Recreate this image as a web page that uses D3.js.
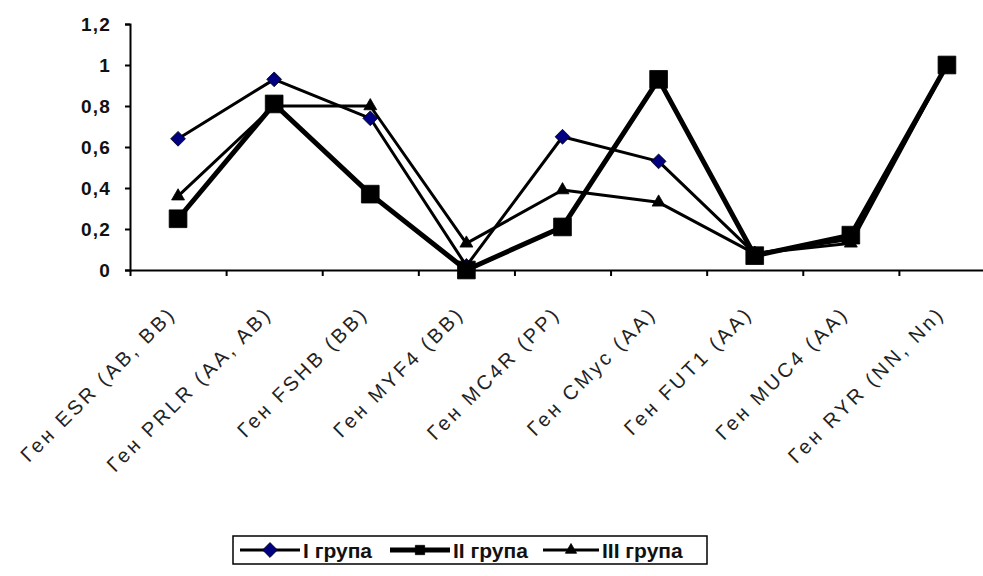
<!DOCTYPE html>
<html>
<head>
<meta charset="utf-8">
<script src="https://cdn.jsdelivr.net/npm/d3@7"></script>
<style>
    body { margin: 0; background: #fff; }
    svg { display: block; }
</style>
</head>
<body>
<div id="chart"></div>
<script>
    // chart values
    const categories = ["Ген ESR (AB, BB)", "Ген PRLR (AA, AB)", "Ген FSHB (BB)", "Ген MYF4 (BB)",
        "Ген MC4R (PP)", "Ген CMyc (AA)", "Ген FUT1 (AA)", "Ген MUC4 (AA)", "Ген RYR (NN, Nn)"];
    const group1 = [0.64, 0.93, 0.74, 0.02, 0.65, 0.53, 0.08, 0.15, 1.0];
    const group2 = [0.25, 0.81, 0.37, 0.0, 0.21, 0.93, 0.07, 0.17, 1.0];
    const group3 = [0.36, 0.80, 0.80, 0.13, 0.39, 0.33, 0.08, 0.13, 1.0];
    const seriesNames = ["I група", "II група", "III група"];
    const yTicks = [0, 0.2, 0.4, 0.6, 0.8, 1, 1.2];

    const width = 983, height = 576;
    const plot = { left: 130, right: 995, top: 24, bottom: 270 };

    const svg = d3.select("#chart")
        .append("svg")
        .attr("width", width)
        .attr("height", height);

    const x = d3.scaleBand()
        .domain(categories)
        .range([plot.left, plot.right]);

    // tick marks sit on the category borders
    const xEdge = d3.scaleLinear()
        .domain([0, categories.length])
        .range([plot.left, plot.right]);

    const y = d3.scaleLinear()
        .domain([0, 1.2])
        .range([plot.bottom, plot.top]);

    // Y axis
    const yAxis = svg.append("g")
        .attr("transform", `translate(${plot.left},0)`)
        .call(d3.axisLeft(y)
            .tickValues(yTicks)
            .tickSize(5)
            .tickPadding(14)
            .tickFormat(d => String(d).replace(".", ",")));
    yAxis.select(".domain").attr("stroke", "#000").attr("stroke-width", 2);
    yAxis.selectAll(".tick line").attr("stroke", "#000").attr("stroke-width", 2);
    yAxis.selectAll(".tick text")
        .attr("fill", "#111")
        .style("font-family", "'Liberation Sans', Arial, sans-serif")
        .style("font-size", "19px")
        .style("letter-spacing", "1.2px")
        .style("font-weight", "bold");

    // X axis
    const xAxis = svg.append("g")
        .attr("transform", `translate(0,${plot.bottom})`)
        .call(d3.axisBottom(xEdge)
            .tickValues(d3.range(categories.length + 1))
            .tickSize(6)
            .tickSizeOuter(0)
            .tickFormat(""));
    xAxis.select(".domain").attr("stroke", "#000").attr("stroke-width", 2);
    xAxis.selectAll(".tick line").attr("stroke", "#000").attr("stroke-width", 2);

    // rotated category labels
    svg.append("g")
        .selectAll("text")
        .data(categories)
        .join("text")
        .attr("transform", d => `translate(${x(d) + x.bandwidth() / 2 - 1},${plot.bottom + 45}) rotate(-45)`)
        .attr("text-anchor", "end")
        .attr("fill", "#222")
        .style("font-family", "'Liberation Sans', Arial, sans-serif")
        .style("font-size", "20px")
        .style("letter-spacing", "3px")
        .text(d => d);

    const line = d3.line()
        .x((d, i) => x(categories[i]) + x.bandwidth() / 2)
        .y(d => y(d));

    const diamond = d3.symbol().type(d3.symbolDiamond2).size(140);
    const square = d3.symbol().type(d3.symbolSquare2).size(400);
    const triangle = d3.symbol().type(d3.symbolTriangle2).size(120);

    const series = [
        { name: seriesNames[0], values: group1, width: 3, sym: diamond, fill: "#000080" },
        { name: seriesNames[1], values: group2, width: 5, sym: square, fill: "#000" },
        { name: seriesNames[2], values: group3, width: 3, sym: triangle, fill: "#000" }
    ];

    series.forEach(s => {
        const g = svg.append("g");
        g.append("path")
            .datum(s.values)
            .attr("fill", "none")
            .attr("stroke", "#000")
            .attr("stroke-width", s.width)
            .attr("stroke-linejoin", "round")
            .attr("d", line);
        g.selectAll("path.marker")
            .data(s.values)
            .join("path")
            .attr("class", "marker")
            .attr("transform", (d, i) => `translate(${x(categories[i]) + x.bandwidth() / 2},${y(d)})`)
            .attr("d", s.sym)
            .attr("fill", s.fill)
            .attr("stroke", "#000")
            .attr("stroke-width", 0.8);
    });

    // legend
    const legend = svg.append("g");
    legend.append("rect")
        .attr("x", 233).attr("y", 536)
        .attr("width", 474).attr("height", 28)
        .attr("fill", "#fff")
        .attr("stroke", "#000")
        .attr("stroke-width", 1.5);

    const legendItems = [
        { name: seriesNames[0], x0: 240, x1: 300, tx: 303, width: 3, sym: diamond, fill: "#000080" },
        { name: seriesNames[1], x0: 390, x1: 450, tx: 453, width: 5, sym: d3.symbol().type(d3.symbolSquare2).size(110), fill: "#000" },
        { name: seriesNames[2], x0: 543, x1: 599, tx: 602, width: 3, sym: d3.symbol().type(d3.symbolTriangle2).size(90), fill: "#000" }
    ];
    const ly = 550;
    legendItems.forEach(it => {
        legend.append("line")
            .attr("x1", it.x0).attr("x2", it.x1)
            .attr("y1", ly).attr("y2", ly)
            .attr("stroke", "#000")
            .attr("stroke-width", it.width);
        legend.append("path")
            .attr("transform", `translate(${(it.x0 + it.x1) / 2},${ly})`)
            .attr("d", it.sym)
            .attr("fill", it.fill)
            .attr("stroke", "#000")
            .attr("stroke-width", 0.8);
        legend.append("text")
            .attr("x", it.tx).attr("y", ly + 8)
            .attr("fill", "#111")
            .style("font-family", "'Liberation Sans', Arial, sans-serif")
            .style("font-size", "21px")
            .style("font-weight", "bold")
            .text(it.name);
    });
</script>
</body>
</html>
